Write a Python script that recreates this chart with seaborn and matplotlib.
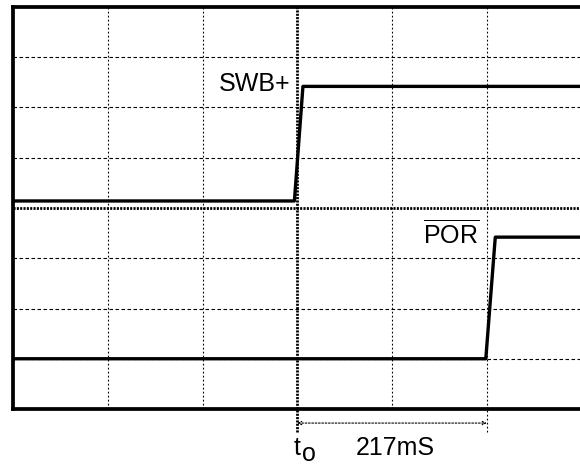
import pandas as pd
import matplotlib
matplotlib.use("Agg")
import matplotlib.pyplot as plt
import seaborn as sns

# Timing diagram: SWB+ rises at t0, /POR follows 217 ms later (x in grid divisions)
swb_time = [0.0, 2.97, 3.06, 6.2]
swb_level = [4.14, 4.14, 6.42, 6.42]
por_time = [0.0, 4.99, 5.09, 6.2]
por_level = [1.0, 1.0, 3.42, 3.42]
t0_div = 3
por_div = 5
delay_label = "217mS"

x_grid = [1, 2, 4, 5]
y_grid = [1, 2, 3, 5, 6, 7]

sns.set_style("white")
plt.rcParams["font.family"] = ["Liberation Sans", "DejaVu Sans"]
plt.rcParams["mathtext.fontset"] = "custom"
plt.rcParams["mathtext.rm"] = "Liberation Sans"
plt.rcParams["text.color"] = "black"

df = pd.concat([
    pd.DataFrame({"t": swb_time, "v": swb_level, "sig": "SWB+"}),
    pd.DataFrame({"t": por_time, "v": por_level, "sig": "POR"}),
])

fig = plt.figure(figsize=(5.8, 4.65), dpi=100)
ax = fig.add_axes([13 / 580, 56 / 465, 568.5 / 580, 402 / 465])
ax.set_xlim(0, 6)
ax.set_ylim(0, 8)

# grid
for x in x_grid:
    ax.axvline(x, color="black", lw=0.8, ls=(0, (1.6, 2.0)), zorder=1)
for y in y_grid:
    ax.axhline(y, color="black", lw=0.8, ls=(0, (3.2, 2.2)), zorder=1)
ax.axvline(t0_div, ymin=-0.058, ymax=1, color="black", lw=2.0,
           ls=(0, (0.75, 0.45)), clip_on=False, zorder=1)
ax.axhline(4, color="black", lw=2.0, ls=(0, (0.75, 0.45)), zorder=1)
ax.axvline(por_div, ymin=-0.058, ymax=0, color="black", lw=0.8,
           ls=(0, (1.6, 2.0)), clip_on=False, zorder=1)

sns.lineplot(data=df, x="t", y="v", units="sig", estimator=None, sort=False,
             color="black", lw=2.4, ax=ax, legend=False, zorder=3)

ax.set_xticks([])
ax.set_yticks([])
ax.set_xlabel("")
ax.set_ylabel("")
for side in ["left", "top", "bottom"]:
    ax.spines[side].set_linewidth(2.7)
    ax.spines[side].set_color("black")
ax.spines["right"].set_visible(False)

fs = 18
ax.text(2.93, 6.33, "SWB+", ha="right", va="baseline", fontsize=fs)
ax.text(4.92, 3.30, r"$\overline{\mathrm{POR}}$", ha="right", va="baseline", fontsize=fs)

trans = ax.get_xaxis_transform()
ax.annotate("", xy=(por_div, -0.035), xytext=(t0_div, -0.035), xycoords=trans,
            textcoords=trans,
            arrowprops=dict(arrowstyle="<->", lw=0.8, ls=(0, (1.5, 1.5)),
                            color="black", mutation_scale=6,
                            shrinkA=0, shrinkB=0))
ax.text(3.03, -0.114, "t", transform=trans, ha="right", va="baseline", fontsize=fs)
ax.text(3.05, -0.13, "o", transform=trans, ha="left", va="baseline", fontsize=fs)
ax.text(3.62, -0.114, delay_label, transform=trans, ha="left", va="baseline", fontsize=fs)

fig.savefig("out.png", dpi=100)
plt.close(fig)
